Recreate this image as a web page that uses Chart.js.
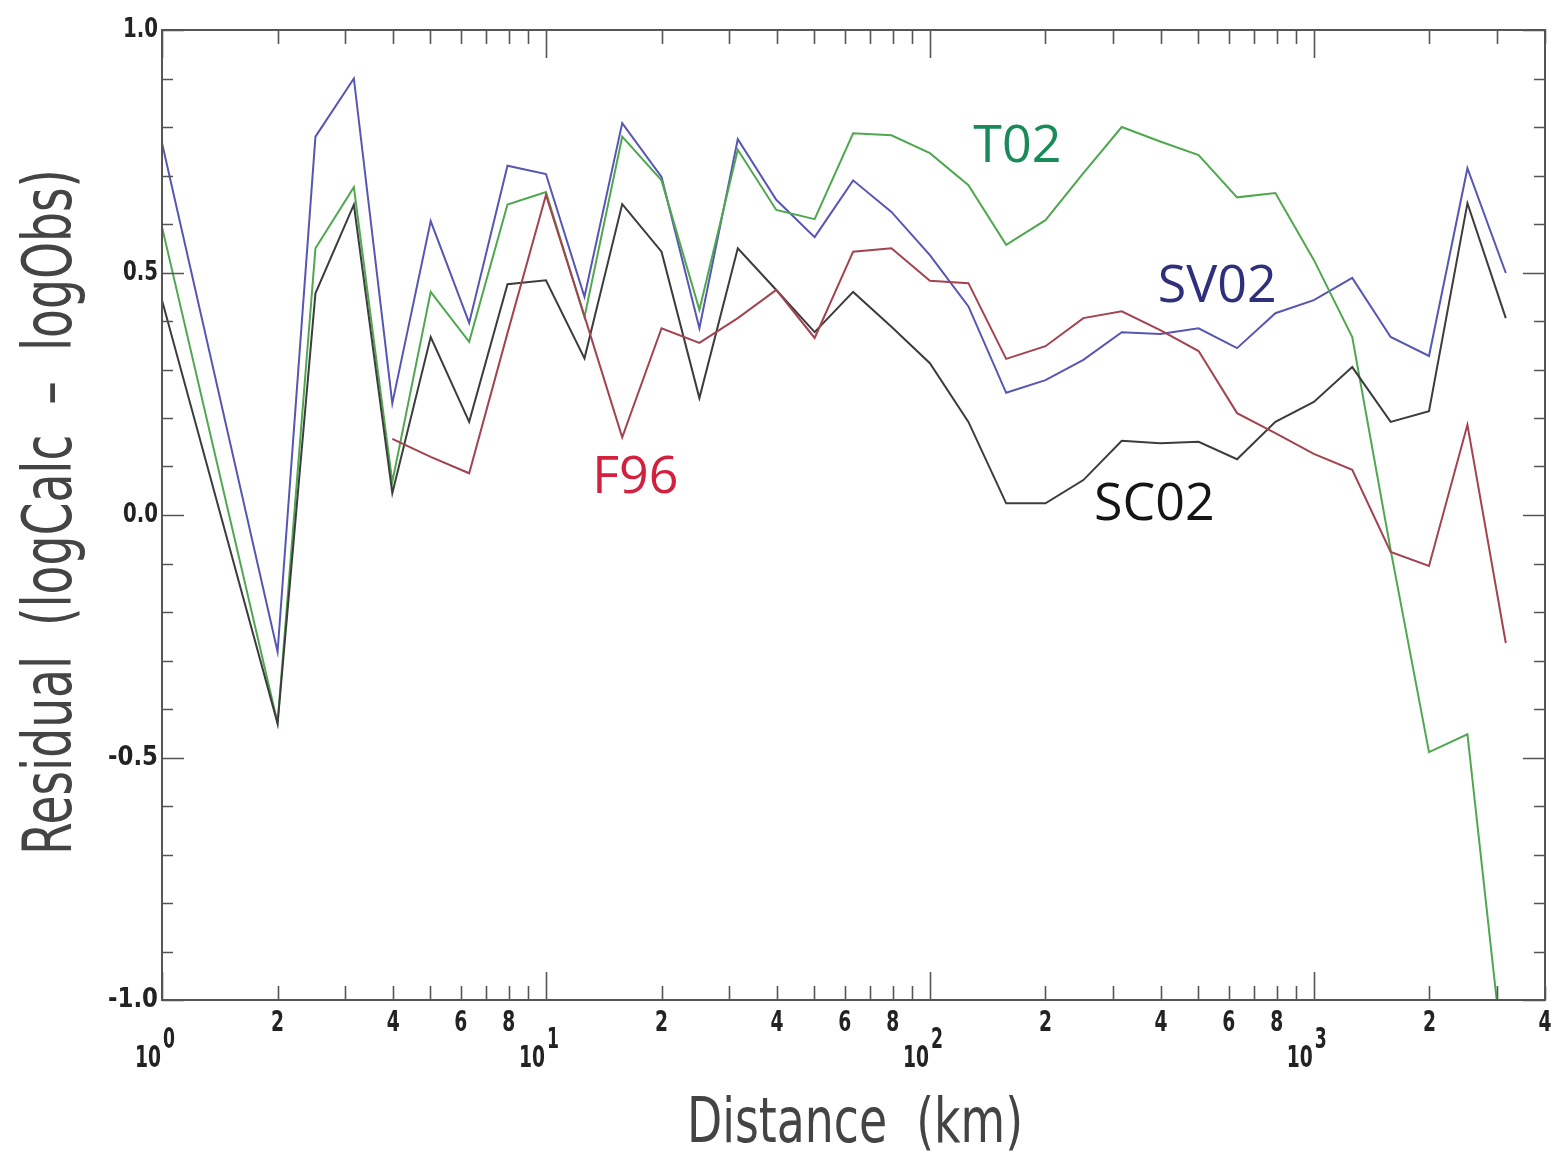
<!DOCTYPE html>
<html>
<head>
<meta charset="utf-8">
<script src="https://cdn.jsdelivr.net/npm/chart.js@4.4.1/dist/chart.umd.min.js"></script>
<style>
  html, body { margin: 0; padding: 0; background: #fff; }
  #chart { display: block; }
</style>
</head>
<body>
<canvas id="chart" width="1554" height="1166"></canvas>
<script>
// distances (km) where the residuals were computed
const distanceKm = [1, 2.0, 2.51, 3.16, 3.98, 5.01, 6.31, 7.94, 10, 12.6, 15.8, 20.0, 25.1, 31.6, 39.8, 50.1, 63.1,
  79.4, 100, 126, 158, 200, 251, 316, 398, 501, 631, 794, 1000, 1259, 1585, 1995, 2512, 3162];

const residualSV02 = [0.767, -0.282, 0.78, 0.90, 0.23, 0.606, 0.396, 0.72, 0.703, 0.45, 0.808, 0.697, 0.385, 0.775,
  0.65, 0.573, 0.69, 0.625, 0.536, 0.43, 0.252, 0.278, 0.32, 0.377, 0.373, 0.385, 0.344, 0.416, 0.443, 0.489,
  0.367, 0.328, 0.715, 0.499];
const residualT02 = [0.594, -0.429, 0.55, 0.676, 0.068, 0.46, 0.357, 0.64, 0.666, 0.408, 0.78, 0.69, 0.423, 0.753,
  0.629, 0.61, 0.787, 0.783, 0.746, 0.68, 0.557, 0.608, 0.705, 0.80, 0.77, 0.742, 0.655, 0.664, 0.526, 0.367,
  -0.072, -0.489, -0.452, -1.17];
const residualSC02 = [0.443, -0.43, 0.457, 0.64, 0.045, 0.367, 0.192, 0.476, 0.484, 0.323, 0.641, 0.543, 0.241,
  0.55, 0.464, 0.377, 0.46, 0.388, 0.313, 0.192, 0.024, 0.024, 0.072, 0.153, 0.148, 0.151, 0.115, 0.192, 0.233,
  0.305, 0.192, 0.214, 0.643, 0.406];
const residualF96 = [null, null, null, null, 0.157, 0.12, 0.086, 0.375, 0.66, 0.41, 0.16, 0.385, 0.355, 0.406,
  0.464, 0.365, 0.543, 0.55, 0.483, 0.478, 0.322, 0.348, 0.406, 0.42, 0.381, 0.338, 0.21, 0.169, 0.126, 0.093,
  -0.076, -0.105, 0.186, -0.264];

// in-plot series names and where they sit (data coords)
const seriesNames = ['T02', 'SV02', 'F96', 'SC02'];
const nameAtKm = [169, 560, 17.1, 384];
const nameAtResidual = [0.759, 0.470, 0.076, 0.021];
const nameColors = ['#1b8a5a', '#2f2f7c', '#d2203e', '#151515'];

// axis ticks
const yMajorTicks = [-1.0, -0.5, 0.0, 0.5, 1.0];
const yMajorLabels = ['-1.0', '-0.5', '0.0', '0.5', '1.0'];
const xDecades = [1, 10, 100, 1000];
const xDecadeExponents = ['0', '1', '2', '3'];
const xMinorLabelled = [2, 4, 6, 8];
const xMax = 4000;

const narrow = '"Liberation Sans Narrow", "DejaVu Sans Condensed", "Liberation Sans", sans-serif';

function fitText(ctx, text, x, y, font, color, width, align) {
  ctx.save();
  ctx.font = font;
  ctx.fillStyle = color;
  ctx.textBaseline = 'middle';
  const w = ctx.measureText(text).width;
  const sx = width ? width / w : 1;
  ctx.translate(x, y);
  ctx.scale(sx, 1);
  let dx = 0;
  if (align === 'center') dx = -w / 2;
  else if (align === 'right') dx = -w;
  ctx.textAlign = 'left';
  ctx.fillText(text, dx, 0);
  ctx.restore();
}

const axesPlugin = {
  id: 'idlAxes',
  afterDatasetsDraw(chart) {
    const ctx = chart.ctx;
    const xs = chart.scales.x, ys = chart.scales.y;
    const a = chart.chartArea;
    ctx.save();
    ctx.strokeStyle = '#555';
    ctx.lineWidth = 2;
    ctx.strokeRect(a.left, a.top, a.right - a.left, a.bottom - a.top);

    // x ticks (bottom and top, pointing inward)
    ctx.lineWidth = 1.6;
    ctx.beginPath();
    xDecades.forEach(d => {
      for (let m = 1; m <= 9; m++) {
        const v = m * d;
        if (v > xMax) break;
        const px = Math.round(xs.getPixelForValue(v)) + 0.5;
        const len = m === 1 ? 28 : 14;
        ctx.moveTo(px, a.bottom); ctx.lineTo(px, a.bottom - len);
        ctx.moveTo(px, a.top); ctx.lineTo(px, a.top + len);
      }
    });
    // y ticks (left and right)
    for (let i = -10; i <= 10; i++) {
      const v = i / 10;
      const py = Math.round(ys.getPixelForValue(v)) + 0.5;
      const len = i % 5 === 0 ? 22 : 11;
      ctx.moveTo(a.left, py); ctx.lineTo(a.left + len, py);
      ctx.moveTo(a.right, py); ctx.lineTo(a.right - len, py);
    }
    ctx.stroke();
    ctx.restore();

    // y tick labels
    yMajorTicks.forEach((v, i) => {
      const py = ys.getPixelForValue(v);
      const w = yMajorLabels[i].length === 4 ? 50 : 35;
      fitText(ctx, yMajorLabels[i], a.left - 4, py, 'bold 27px ' + narrow, '#222', w, 'right');
    });

    // x minor labels 2,4,6,8 and decade labels
    xDecades.forEach((d, i) => {
      xMinorLabelled.forEach(m => {
        const v = m * d;
        if (v > xMax) return;
        fitText(ctx, String(m), xs.getPixelForValue(v), a.bottom + 23, 'bold 29px ' + narrow, '#222', 13, 'center');
      });
      const px = xs.getPixelForValue(d);
      fitText(ctx, '10', px - 1, a.bottom + 59, 'bold 31px ' + narrow, '#222', 26, 'right');
      fitText(ctx, xDecadeExponents[i], px + 1, a.bottom + 41, 'bold 28px ' + narrow, '#222', 12, 'left');
    });

    // axis titles
    fitText(ctx, 'Distance  (km)', 855, 1126, '62px ' + narrow, '#444', 336, 'center');
    ctx.save();
    ctx.translate(53, 512);
    ctx.rotate(-Math.PI / 2);
    fitText(ctx, 'Residual  (logCalc  \u2013  logObs)', 0, 0, '68px ' + narrow, '#444', 686, 'center');
    ctx.restore();

    // series names inside the plot
    seriesNames.forEach((name, i) => {
      const px = xs.getPixelForValue(nameAtKm[i]);
      const py = ys.getPixelForValue(nameAtResidual[i]);
      fitText(ctx, name, px, py, '52px "Open Sans", "Noto Sans", sans-serif', nameColors[i], 0, 'center');
    });
  }
};

function series(label, data, color) {
  return {
    label: label,
    data: data,
    borderColor: color,
    borderWidth: 2,
    pointRadius: 0,
    tension: 0,
    fill: false,
    spanGaps: false
  };
}

new Chart(document.getElementById('chart').getContext('2d'), {
  type: 'line',
  data: {
    labels: distanceKm,
    datasets: [
      series('F96', residualF96, '#a3434f'),
      series('SC02', residualSC02, '#3c3c3c'),
      series('T02', residualT02, '#4fa84f'),
      series('SV02', residualSV02, '#5656b4')
    ]
  },
  options: {
    responsive: false,
    devicePixelRatio: 1,
    animation: false,
    layout: { padding: { left: 162, right: 9, top: 30, bottom: 166 } },
    plugins: { legend: { display: false }, tooltip: { enabled: false }, title: { display: false } },
    scales: {
      x: { type: 'logarithmic', min: 1, max: xMax, display: false },
      y: { type: 'linear', min: -1, max: 1, display: false }
    }
  },
  plugins: [axesPlugin]
});
</script>
</body>
</html>
